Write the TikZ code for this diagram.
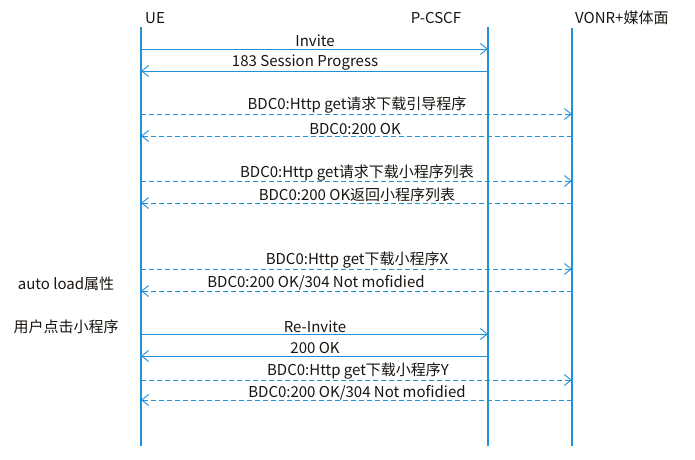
\documentclass[tikz,border=0pt]{standalone}
\usepackage{fontspec}
\setmainfont{Noto Sans CJK SC}
\usetikzlibrary{arrows.meta}
\definecolor{lineblue}{RGB}{32,145,215}
\definecolor{txt}{RGB}{25,20,15}
\tikzset{
  life/.style={draw=lineblue, line width=1.1pt},
  msg/.style={draw=lineblue, line width=1pt, -{Straight Barb[length=7pt,width=11pt,line width=0.9pt]}},
  dmsg/.style={msg, dash pattern=on 5pt off 3pt},
  lbl/.style={text=txt, font=\fontsize{15}{17}\selectfont, inner sep=0pt},
}
\begin{document}
\begin{tikzpicture}[x=1pt,y=-1pt]
\useasboundingbox (0,0) rectangle (695,459);
% participants
\node[lbl, anchor=west] (ueL) at (145,18) {UE};
\node[lbl] (pL) at (436,18) {P-CSCF};
\node[lbl, anchor=west] (vL) at (575,18) {VONR+媒体面};
% lifelines
\coordinate (ueT) at (141,27); \coordinate (ueB) at (141,446);
\coordinate (pT) at (488,27); \coordinate (pB) at (488,446);
\coordinate (vT) at (572,28); \coordinate (vB) at (572,446);
\draw[life] (ueT) -- (ueB);
\draw[life] (pT) -- (pB);
\draw[life] (vT) -- (vB);
% message endpoints
\foreach \n/\y in {1/49,2/71,3/114,4/136,5/181,6/203,7/269,8/291,9/334,10/356,11/380,12/400}{
  \coordinate (u\n) at (141,\y);
  \coordinate (p\n) at (488,\y);
  \coordinate (v\n) at (572,\y);
}
\draw[msg] (u1) -- (p1);
\draw[msg] (p2) -- (u2);
\draw[dmsg] (u3) -- (v3);
\draw[dmsg] (v4) -- (u4);
\draw[dmsg] (u5) -- (v5);
\draw[dmsg] (v6) -- (u6);
\draw[dmsg] (u7) -- (v7);
\draw[dmsg] (v8) -- (u8);
\draw[msg] (u9) -- (p9);
\draw[msg] (p10) -- (u10);
\draw[dmsg] (u11) -- (v11);
\draw[dmsg] (v12) -- (u12);
% labels
\node[lbl] (t1) at (315,41) {Invite};
\node[lbl] (t2) at (305,63) {183 Session Progress};
\node[lbl] (t3) at (357,105) {BDC0:Http get请求下载引导程序};
\node[lbl] (t4) at (355,129) {BDC0:200 OK};
\node[lbl] (t5) at (357,173) {BDC0:Http get请求下载小程序列表};
\node[lbl] (t6) at (357,195) {BDC0:200 OK返回小程序列表};
\node[lbl] (t7) at (357,260) {BDC0:Http get下载小程序X};
\node[lbl] (t8) at (316,283) {BDC0:200 OK/304 Not mofidied};
\node[lbl] (t9) at (315,327) {Re-Invite};
\node[lbl] (t10) at (315,348) {200 OK};
\node[lbl] (t11) at (358,371) {BDC0:Http get下载小程序Y};
\node[lbl] (t12) at (357,393) {BDC0:200 OK/304 Not mofidied};
\node[lbl] (s1) at (66,284) {auto load属性};
\node[lbl] (s2) at (66,327) {用户点击小程序};
\end{tikzpicture}
\end{document}
